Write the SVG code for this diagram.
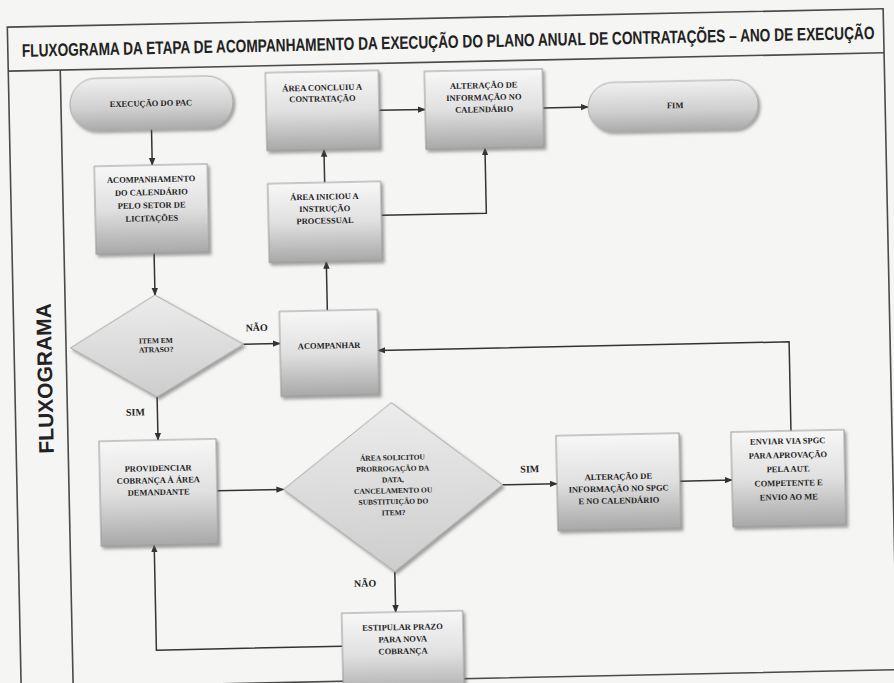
<svg xmlns="http://www.w3.org/2000/svg" width="894" height="683" viewBox="0 0 894 683">
<defs>
<linearGradient id="gBox" x1="0" y1="0" x2="0" y2="1"><stop offset="0" stop-color="#f7f7f7"/><stop offset="0.5" stop-color="#e0e0e0"/><stop offset="1" stop-color="#a8a8a8"/></linearGradient>
<linearGradient id="gPill" x1="0" y1="0" x2="0" y2="1"><stop offset="0" stop-color="#f0f0f0"/><stop offset="0.6" stop-color="#cfcfcf"/><stop offset="1" stop-color="#ababab"/></linearGradient>
<linearGradient id="gDia" x1="0" y1="0" x2="0" y2="1"><stop offset="0" stop-color="#ececec"/><stop offset="1" stop-color="#cdcdcd"/></linearGradient>
<filter id="sh" x="-10%" y="-10%" width="130%" height="130%"><feDropShadow dx="2" dy="2.5" stdDeviation="1.5" flood-color="#555" flood-opacity="0.55"/></filter>
<marker id="ah" viewBox="0 0 10 10" refX="9" refY="5" markerWidth="8" markerHeight="8" markerUnits="userSpaceOnUse" orient="auto"><path d="M0,1 L10,5 L0,9 z" fill="#333"/></marker>
</defs>
<style>
.frame{fill:none;stroke:#4a4a4a;stroke-width:1.6}
.box{fill:url(#gBox);stroke:#9a9a9a;stroke-width:1;filter:url(#sh)}
.pill{fill:url(#gPill);stroke:#aaa;stroke-width:1;filter:url(#sh)}
.dia{fill:url(#gDia);stroke:#a5a5a5;stroke-width:1;filter:url(#sh)}
.t{font-family:"Liberation Serif","Times New Roman",serif;font-weight:bold;font-size:8.5px;fill:#1e1e1e;text-anchor:middle}
.ts{font-size:7.5px}
.lbl{font-family:"Liberation Serif","Times New Roman",serif;font-weight:bold;font-size:10px;fill:#1e1e1e;text-anchor:middle}
.title{font-family:"Liberation Sans",Arial,sans-serif;font-weight:bold;font-size:18px;fill:#222}
.side{font-family:"Liberation Sans",Arial,sans-serif;font-weight:bold;font-size:21px;fill:#222;text-anchor:middle}
.con{fill:none;stroke:#333;stroke-width:1.5}
.arr{marker-end:url(#ah)}
</style>
<rect x="0" y="0" width="894" height="683" fill="#f5f5f3"/>
<g transform="rotate(-1.2 447 341)">
<g id="frame">
<rect class="frame" x="14" y="18" width="876" height="661"/>
<line class="frame" x1="14" y1="62" x2="890" y2="62"/>
<line class="frame" x1="66" y1="62" x2="66" y2="679"/>
<text class="title" transform="translate(28 48) scale(0.752 1)" x="0" y="0" textLength="1134" lengthAdjust="spacingAndGlyphs">FLUXOGRAMA DA ETAPA DE ACOMPANHAMENTO DA EXECUÇÃO DO PLANO ANUAL DE CONTRATAÇÕES – ANO DE EXECUÇÃO</text>
<text class="side" transform="translate(44 370) rotate(-90)" dominant-baseline="central">FLUXOGRAMA</text>
</g>
<g id="connectors">
<path class="con arr" d="M156,123 V159"/>
<path class="con arr" d="M156,247 V289"/>
<path class="con arr" d="M243.5,340 H280"/>
<path class="con arr" d="M156,391 V434"/>
<path class="con arr" d="M214,486 H280.5"/>
<path class="con arr" d="M499.5,486 H554"/>
<path class="con arr" d="M677,486 H729"/>
<path class="con arr" d="M789,438 V349 H378"/>
<path class="con arr" d="M328,308 V259"/>
<path class="con arr" d="M328,180 V147"/>
<path class="con arr" d="M384,109 H430"/>
<path class="con arr" d="M384,214 H489 V149"/>
<path class="con arr" d="M548,110 H593"/>
<path class="con arr" d="M390,570.5 V611"/>
<path class="con arr" d="M336,644 H150 V539"/>
<text class="lbl" x="257" y="327">NÃO</text>
<text class="lbl" x="134" y="409">SIM</text>
<text class="lbl" x="527" y="474">SIM</text>
<text class="lbl" x="360" y="585">NÃO</text>
</g>
<g id="n-execucao">
<rect class="pill" x="75" y="71" width="163" height="52" rx="26"/>
<text class="t" x="156" y="100">EXECUÇÃO DO PAC</text>
</g>
<g id="n-acompanhamento">
<rect class="box" x="98" y="159" width="113" height="88"/>
<text class="t" x="154.5" y="176">ACOMPANHAMENTO</text>
<text class="t" x="154.5" y="189">DO CALENDÁRIO</text>
<text class="t" x="154.5" y="202">PELO SETOR DE</text>
<text class="t" x="154.5" y="215">LICITAÇÕES</text>
</g>
<g id="n-item">
<polygon class="dia" points="70.5,340 156,289 243.5,340 156,391"/>
<text class="t ts" x="156" y="337">ITEM EM</text>
<text class="t ts" x="156" y="346">ATRASO?</text>
</g>
<g id="n-acompanhar">
<rect class="box" x="280" y="308" width="98" height="85"/>
<text class="t" x="329" y="346">ACOMPANHAR</text>
</g>
<g id="n-iniciou">
<rect class="box" x="271" y="180" width="113" height="79"/>
<text class="t" x="327.5" y="197">ÁREA INICIOU A</text>
<text class="t" x="327.5" y="209">INSTRUÇÃO</text>
<text class="t" x="327.5" y="221">PROCESSUAL</text>
</g>
<g id="n-concluiu">
<rect class="box" x="271" y="69" width="113" height="78"/>
<text class="t" x="327.5" y="88">ÁREA CONCLUIU A</text>
<text class="t" x="327.5" y="99">CONTRATAÇÃO</text>
</g>
<g id="n-alteracao-cal">
<rect class="box" x="430" y="71" width="118" height="78"/>
<text class="t" x="489" y="89">ALTERAÇÃO DE</text>
<text class="t" x="489" y="101">INFORMAÇÃO NO</text>
<text class="t" x="489" y="113">CALENDÁRIO</text>
</g>
<g id="n-fim">
<rect class="pill" x="593" y="86" width="170" height="49" rx="24.5"/>
<text class="t" x="680" y="113">FIM</text>
</g>
<g id="n-providenciar">
<rect class="box" x="97" y="434" width="117" height="105"/>
<text class="t" x="155.5" y="465">PROVIDENCIAR</text>
<text class="t" x="155.5" y="477">COBRANÇA À ÁREA</text>
<text class="t" x="155.5" y="489">DEMANDANTE</text>
</g>
<g id="n-solicitou">
<polygon class="dia" points="280.5,486 390,401.5 499.5,486 390,570.5"/>
<text class="t ts" x="390" y="459">ÁREA SOLICITOU</text>
<text class="t ts" x="390" y="470">PRORROGAÇÃO DA</text>
<text class="t ts" x="390" y="481">DATA,</text>
<text class="t ts" x="390" y="492">CANCELAMENTO OU</text>
<text class="t ts" x="390" y="503">SUBSTITUIÇÃO DO</text>
<text class="t ts" x="390" y="514">ITEM?</text>
</g>
<g id="n-alteracao-spgc">
<rect class="box" x="554" y="438" width="123" height="95"/>
<text class="t" x="615.5" y="483">ALTERAÇÃO DE</text>
<text class="t" x="615.5" y="495">INFORMAÇÃO NO SPGC</text>
<text class="t" x="615.5" y="507">E NO CALENDÁRIO</text>
</g>
<g id="n-enviar">
<rect class="box" x="729" y="438" width="113" height="95"/>
<text class="t" x="785.5" y="451">ENVIAR VIA SPGC</text>
<text class="t" x="785.5" y="465">PARA APROVAÇÃO</text>
<text class="t" x="785.5" y="479">PELA AUT.</text>
<text class="t" x="785.5" y="493">COMPETENTE E</text>
<text class="t" x="785.5" y="507">ENVIO AO ME</text>
</g>
<g id="n-estipular">
<rect class="box" x="336" y="611" width="121" height="85"/>
<text class="t" x="396.5" y="629">ESTIPULAR PRAZO</text>
<text class="t" x="396.5" y="641">PARA NOVA</text>
<text class="t" x="396.5" y="653">COBRANÇA</text>
</g>
</g>
</svg>
